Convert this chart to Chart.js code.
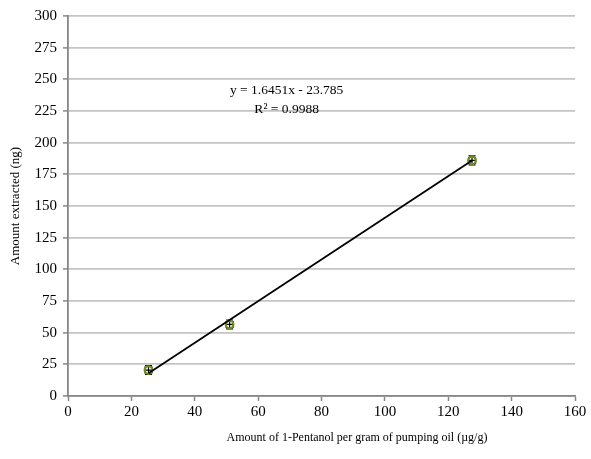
<!DOCTYPE html>
<html>
<head>
<meta charset="utf-8">
<script src="https://cdn.jsdelivr.net/npm/chart.js@4/dist/chart.umd.min.js"></script>
<style>
  html, body { margin: 0; padding: 0; background: #fff; }
  #wrap { width: 591px; height: 459px; }
</style>
</head>
<body>
<div id="wrap"><canvas id="c" width="591" height="459"></canvas></div>
<script>
// Spiked 1-Pentanol level in pumping oil (µg/g) vs amount extracted (ng)
const spikeLevels = [25.4, 51.0, 127.5];
const amountExtracted = [20.5, 56.5, 186.0];
const xError = [1.1, 1.1, 1.1];
const yError = [3.5, 3.5, 3.5];

// Linear fit reported on the chart
const fitSlope = 1.6451;
const fitIntercept = -23.785;
const fitR2 = 0.9988;

const xTicks = [0, 20, 40, 60, 80, 100, 120, 140, 160];
const yTicks = [0, 25, 50, 75, 100, 125, 150, 175, 200, 225, 250, 275, 300];

const FONT = "'Liberation Serif', 'Times New Roman', serif";

const points = spikeLevels.map((x, i) => ({ x, y: amountExtracted[i] }));
const xMin = Math.min(...spikeLevels), xMax = Math.max(...spikeLevels);
const fitLine = [
  { x: xMin, y: fitSlope * xMin + fitIntercept },
  { x: xMax, y: fitSlope * xMax + fitIntercept }
];

// Error bars, drawn just before the markers so the circles sit on top
const errorBars = {
  id: 'errorBars',
  beforeDatasetDraw(chart, args) {
    if (args.index !== 1) return;
    const { ctx, scales: { x, y } } = chart;
    ctx.save();
    ctx.strokeStyle = '#000';
    ctx.lineWidth = 1.2;
    spikeLevels.forEach((xv, i) => {
      const yv = amountExtracted[i];
      const px = x.getPixelForValue(xv), py = y.getPixelForValue(yv);
      const yTop = y.getPixelForValue(yv + yError[i]);
      const yBot = y.getPixelForValue(yv - yError[i]);
      const xL = x.getPixelForValue(xv - xError[i]);
      const xR = x.getPixelForValue(xv + xError[i]);
      ctx.beginPath();
      ctx.moveTo(px, yTop); ctx.lineTo(px, yBot);
      ctx.moveTo(px - 3.5, yTop); ctx.lineTo(px + 3.5, yTop);
      ctx.moveTo(px - 3.5, yBot); ctx.lineTo(px + 3.5, yBot);
      ctx.moveTo(xL, py); ctx.lineTo(xR, py);
      ctx.moveTo(xL, py - 3.5); ctx.lineTo(xL, py + 3.5);
      ctx.moveTo(xR, py - 3.5); ctx.lineTo(xR, py + 3.5);
      ctx.stroke();
    });
    ctx.restore();
  }
};

// Fit equation and x-axis title
const labels = {
  id: 'labels',
  afterDraw(chart) {
    const { ctx, scales: { x, y }, chartArea } = chart;
    ctx.save();
    ctx.fillStyle = '#000';
    ctx.font = '13.5px ' + FONT;
    ctx.textAlign = 'center';
    ctx.textBaseline = 'middle';
    const ex = x.getPixelForValue(69);
    const sign = fitIntercept < 0 ? ' - ' : ' + ';
    ctx.fillText('y = ' + fitSlope.toFixed(4) + 'x' + sign + Math.abs(fitIntercept).toFixed(3), ex, y.getPixelForValue(241.5));
    ctx.fillText('R² = ' + fitR2.toFixed(4), ex, y.getPixelForValue(226.5));
    ctx.font = '12px ' + FONT;
    const tx = chartArea.left + (chartArea.right - chartArea.left) * 0.57;
    ctx.fillText('Amount of 1-Pentanol per gram of pumping oil (µg/g)', tx, chartArea.bottom + 42);
    ctx.restore();
  }
};

new Chart(document.getElementById('c'), {
  type: 'scatter',
  data: {
    datasets: [
      {
        label: 'Trendline',
        data: fitLine,
        showLine: true,
        borderColor: '#000',
        borderWidth: 1.8,
        pointRadius: 0,
        fill: false
      },
      {
        label: '1-Pentanol',
        data: points,
        pointStyle: 'circle',
        pointRadius: 3.8,
        borderColor: '#6f8f1e',
        backgroundColor: 'rgba(0,0,0,0)',
        pointBorderWidth: 2.2
      }
    ]
  },
  options: {
    responsive: false,
    animation: false,
    layout: { padding: { top: 16, right: 16, left: 8, bottom: 0 } },
    plugins: {
      legend: { display: false },
      tooltip: { enabled: false }
    },
    scales: {
      x: {
        type: 'linear',
        min: 0, max: 160,
        afterBuildTicks(s) { s.ticks = xTicks.map(v => ({ value: v })); },
        afterFit(s) { s.height = 63; },
        grid: { drawOnChartArea: false, drawTicks: true, tickLength: 5, tickColor: '#868686', tickWidth: 1.5 },
        border: { color: '#868686', width: 1.8 },
        ticks: { color: '#000', font: { family: FONT, size: 15 }, padding: 2, maxRotation: 0 }
      },
      y: {
        type: 'linear',
        min: 0, max: 300,
        afterBuildTicks(s) { s.ticks = yTicks.map(v => ({ value: v })); },
        afterFit(s) { s.width = 60; },
        grid: { color: '#c4c4c4', lineWidth: 1.8, drawTicks: true, tickLength: 5, tickColor: '#868686', tickWidth: 1.5 },
        border: { color: '#868686', width: 1.8 },
        ticks: { color: '#000', font: { family: FONT, size: 15 }, padding: 6 },
        title: { display: true, text: 'Amount extracted (ng)', color: '#000', font: { family: FONT, size: 13 }, padding: { top: 0, bottom: 2 } }
      }
    }
  },
  plugins: [errorBars, labels]
});
</script>
</body>
</html>
